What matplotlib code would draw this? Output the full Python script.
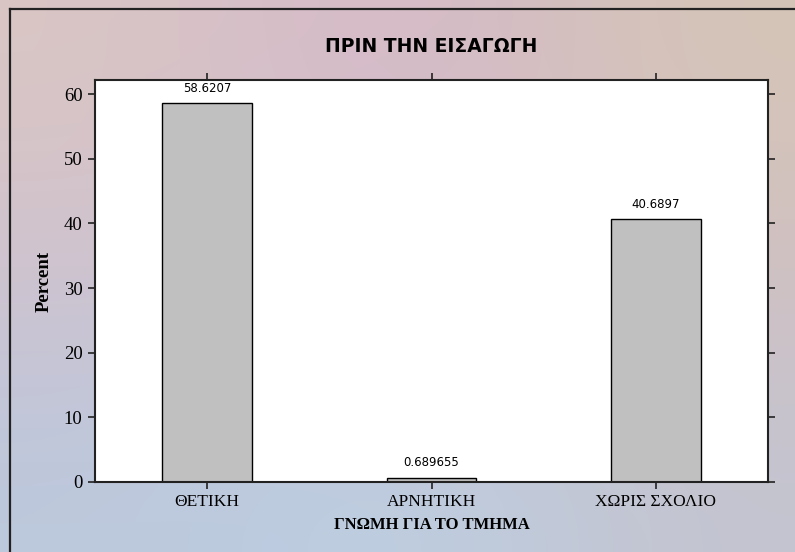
import matplotlib
matplotlib.use("Agg")
import matplotlib.pyplot as plt
import numpy as np
from matplotlib.lines import Line2D

categories = ["ΘΕΤΙΚΗ", "ΑΡΝΗΤΙΚΗ", "ΧΩΡΙΣ ΣΧΟΛΙΟ"]
percent = [58.6207, 0.689655, 40.6897]
value_labels = ["58.6207", "0.689655", "40.6897"]
yticks = [0, 10, 20, 30, 40, 50, 60]

fig = plt.figure(figsize=(7.95, 5.52), dpi=100)

# gradient background
bg = fig.add_axes([0, 0, 1, 1], zorder=-10)
grid = np.array([
    [[0xd9, 0xc6, 0xc4], [0xd5, 0xb7, 0xcb], [0xd5, 0xc5, 0xb7]],
    [[0xcf, 0xc2, 0xcf], [0xcc, 0xc4, 0xd6], [0xd0, 0xc0, 0xc2]],
    [[0xbc, 0xc8, 0xdc], [0xbc, 0xd0, 0xe4], [0xc4, 0xc4, 0xd0]],
]) / 255.0
bg.imshow(grid, aspect="auto", interpolation="bicubic", extent=[0, 1, 0, 1])
bg.set_axis_off()

# outer frame (left and top edges only visible)
fig.add_artist(Line2D([10 / 795, 10 / 795], [0, 1 - 9 / 552], transform=fig.transFigure,
                      color="#222222", lw=1.6))
fig.add_artist(Line2D([10 / 795, 1], [1 - 9 / 552, 1 - 9 / 552], transform=fig.transFigure,
                      color="#222222", lw=1.6))

ax = fig.add_axes([95 / 795, 70 / 552, 673 / 795, 402 / 552])
ax.set_facecolor("white")
x = np.arange(len(categories))
ax.bar(x, percent, width=0.4, color="#c0c0c0", edgecolor="black", linewidth=1.0)

for xi, v, lab in zip(x, percent, value_labels):
    ax.annotate(lab, (xi, v), xytext=(0, 6), textcoords="offset points",
                ha="center", va="bottom", fontsize=8.5, family="DejaVu Sans")

ax.set_xlim(-0.5, 2.5)
ax.set_ylim(0, 62.2)
ax.set_xticks(x)
ax.set_xticklabels(categories, family="Liberation Serif", fontsize=12.5)
ax.set_yticks(yticks)
ax.set_yticklabels([str(t) for t in yticks], family="Liberation Serif", fontsize=13.5)
ax.tick_params(direction="out", length=5, width=1.2, color="#222222",
               top=True, right=True, pad=4)
for s in ax.spines.values():
    s.set_linewidth(1.5)
    s.set_color("#222222")

ax.set_ylabel("Percent", family="Liberation Serif", fontweight="bold", fontsize=13.5, labelpad=8)
ax.set_xlabel("ΓΝΩΜΗ ΓΙΑ ΤΟ ΤΜΗΜΑ", family="Liberation Serif", fontweight="bold",
              fontsize=12, labelpad=5)
ax.set_title("ΠΡΙΝ ΤΗΝ ΕΙΣΑΓΩΓΗ", family="DejaVu Sans", fontweight="bold", fontsize=13.5, pad=20)

plt.savefig("out.png", dpi=100)
